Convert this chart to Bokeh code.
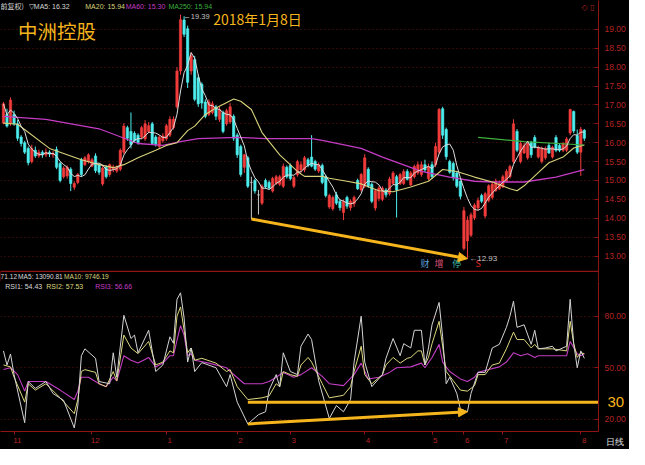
import pandas as pd
from bokeh.plotting import figure
from bokeh.layouts import column
from bokeh.models import (ColumnDataSource, Range1d, FixedTicker, NumeralTickFormatter,
                          Label, Arrow, NormalHead, BoxAnnotation, LinearAxis)
from bokeh.core.properties import value
from bokeh.embed import file_html
from bokeh.resources import INLINE

# ---------------- data ----------------
open_ = [16.52,16.75,16.52,16.75,16.50,16.15,16.00,15.85,15.50,15.80,
         15.65,15.75,15.68,15.75,15.68,15.82,15.45,15.10,15.12,15.30,
         14.82,14.95,15.55,15.42,15.50,15.38,15.65,15.42,14.91,15.35,
         15.16,15.30,15.25,15.30,15.75,16.40,16.30,16.25,16.20,16.15,
         16.10,16.30,16.50,16.15,15.90,16.05,16.10,16.20,16.40,16.95,
         17.90,19.25,19.02,17.90,18.20,17.72,17.55,17.08,16.75,16.80,
         16.95,16.62,16.80,16.50,16.55,16.70,16.20,15.90,15.35,15.60,
         14.95,15.00,14.62,14.40,15.00,14.95,14.72,14.92,14.90,14.85,
         15.35,15.40,14.85,15.15,15.28,15.28,15.55,15.62,15.50,15.25,
         15.40,15.10,14.30,14.25,14.62,14.45,14.15,14.55,14.28,14.38,
         15.00,14.75,14.85,15.30,14.90,14.27,14.52,14.50,14.75,14.65,
         14.92,15.10,14.92,14.92,15.24,14.88,15.10,15.20,15.16,15.42,
         15.05,15.42,15.42,15.75,16.90,16.35,15.50,15.45,15.20,14.98,
         13.20,13.40,13.55,14.01,14.27,14.60,14.06,14.47,14.55,14.73,
         14.78,14.83,14.98,15.10,15.50,16.30,15.50,15.73,15.60,16.01,
         16.14,15.62,15.50,15.60,15.93,15.62,16.14,15.93,15.80,15.80,
         16.26,16.83,16.19,15.75,16.33]
high = [17.08,16.90,17.20,16.85,16.60,16.20,16.05,15.90,15.95,15.90,
        15.82,15.80,15.85,15.80,15.78,15.90,15.50,15.38,15.40,15.35,
        14.98,15.20,15.60,15.65,15.72,15.60,15.72,15.45,15.38,15.40,
        15.45,15.42,15.40,15.85,16.52,16.45,16.80,16.30,16.25,16.45,
        16.60,16.55,16.55,16.20,16.20,16.25,16.50,16.70,16.70,18.00,
        19.39,19.35,19.10,18.40,18.30,17.80,17.60,17.15,17.15,17.10,
        17.00,16.95,16.85,16.90,17.05,16.75,16.25,15.95,15.70,15.65,
        15.10,15.05,14.75,14.90,15.05,15.00,15.10,15.15,15.15,15.45,
        15.40,15.45,15.12,15.55,15.50,15.65,15.60,16.20,15.55,15.48,
        15.45,15.15,14.65,14.60,14.70,14.50,14.50,14.60,14.50,14.60,
        15.05,15.20,15.70,15.35,14.95,14.78,14.85,14.85,14.80,15.10,
        15.25,15.15,15.20,15.30,15.30,15.25,15.42,15.50,15.50,15.55,
        15.45,15.50,16.00,16.92,16.95,16.40,15.55,15.50,15.25,15.00,
        14.30,14.05,14.15,14.40,14.55,14.65,14.70,14.90,14.95,15.05,
        15.00,15.15,15.30,15.42,16.62,16.36,16.05,16.00,16.02,16.05,
        16.20,15.92,15.90,15.90,16.00,15.92,16.20,15.98,16.02,16.15,
        16.90,16.85,16.35,16.42,16.36]
low = [16.49,16.40,16.45,16.45,16.05,15.90,15.70,15.40,15.45,15.60,
       15.60,15.60,15.62,15.62,15.60,15.30,14.95,15.05,15.05,14.72,
       14.75,14.90,15.10,15.38,15.45,15.35,15.20,15.15,14.86,15.05,
       15.10,15.22,15.20,15.25,15.70,16.05,15.85,16.00,15.95,16.10,
       16.05,16.25,15.95,15.90,15.85,16.00,16.05,16.15,16.35,16.90,
       17.80,18.80,17.45,17.80,17.10,16.95,16.90,16.65,16.70,16.75,
       16.60,16.55,16.25,16.45,16.50,16.05,15.60,15.10,15.20,14.80,
       13.98,14.65,14.10,14.35,14.78,14.75,14.68,14.88,14.85,14.80,
       15.05,15.00,14.80,15.10,15.20,15.22,15.35,15.35,15.25,15.20,
       14.90,14.55,14.25,14.20,14.35,14.20,13.95,14.25,14.20,14.30,
       14.75,14.70,14.80,14.80,14.40,14.20,14.45,14.45,14.55,14.60,
       14.88,14.02,14.88,14.88,15.00,14.85,15.05,15.15,15.10,15.22,
       15.00,15.05,15.35,15.70,16.10,15.55,15.18,15.00,14.80,14.50,
       13.15,12.93,13.50,13.95,14.20,14.40,14.00,14.42,14.50,14.70,
       14.75,14.80,14.95,15.05,15.45,15.75,15.45,15.70,15.55,15.60,
       15.85,15.58,15.45,15.55,15.70,15.58,15.75,15.75,15.75,15.75,
       16.20,16.25,15.70,15.12,16.05]
close = [17.03,16.44,17.13,16.50,16.12,15.98,15.75,15.47,15.85,15.65,
         15.75,15.68,15.75,15.70,15.72,15.35,15.00,15.33,15.35,14.92,
         14.92,15.16,15.16,15.60,15.68,15.55,15.26,15.22,15.33,15.10,
         15.42,15.36,15.35,15.80,16.44,16.12,15.95,16.05,16.00,16.40,
         16.50,16.45,15.98,15.95,16.15,16.18,16.45,16.62,16.62,17.90,
         19.26,18.87,17.60,18.30,17.15,17.03,17.05,16.70,17.08,17.03,
         16.70,16.88,16.30,16.85,16.95,16.12,15.68,15.16,15.68,14.85,
         14.95,14.72,14.62,14.85,14.83,14.80,15.05,15.10,15.10,15.37,
         15.10,15.05,15.08,15.50,15.42,15.60,15.40,15.38,15.30,15.42,
         14.95,14.60,14.60,14.55,14.40,14.28,14.45,14.32,14.45,14.55,
         14.78,15.16,15.60,14.85,14.45,14.73,14.80,14.80,14.62,15.04,
         15.20,14.75,15.16,15.24,15.03,15.20,15.37,15.42,15.42,15.28,
         15.37,15.10,15.90,16.88,16.20,15.63,15.22,15.08,14.85,14.58,
         14.20,13.95,14.09,14.35,14.47,14.45,14.65,14.86,14.90,14.98,
         14.92,15.10,15.24,15.37,16.50,15.80,15.98,15.93,15.98,15.68,
         15.88,15.88,15.85,15.85,15.73,15.88,15.80,15.80,15.98,16.10,
         16.88,16.31,15.75,16.36,16.12]

ma20_idx = [0,4,13,22,27,31,34,38,43,46,49,52,54,57,60,65,67,70,73,78,
            83,85,90,92,97,101,106,110,115,120,124,128,133,138,143,145,147,151,154,158,
            161,164]
ma20 = [16.52,16.49,15.85,15.55,15.42,15.34,15.42,15.60,15.80,15.93,
        16.00,16.32,16.44,16.75,16.92,17.16,17.10,16.88,16.27,15.68,
        15.24,15.11,15.11,15.06,14.98,14.91,14.73,14.70,14.83,14.98,
        15.29,15.24,15.09,14.96,14.78,14.73,14.86,15.21,15.47,15.62,
        15.86,15.94]
ma60_idx = [0,12,27,38,45,50,55,66,74,87,90,101,107,118,126,133,138,147,156,164]
ma60 = [16.70,16.62,16.37,15.98,15.93,16.03,16.11,16.14,16.11,16.11,
        16.06,15.85,15.62,15.24,15.09,14.98,14.96,14.96,15.09,15.29]
ma250_idx = [134, 147, 164]
ma250 = [16.14, 16.03, 15.94]

rsi1_idx = [0,1,2,3,6,7,9,12,14,17,20,21,22,23,26,27,30,31,32,34,
            36,37,38,41,43,45,47,48,49,50,51,52,53,54,56,60,63,64,66,69,
            72,74,75,77,78,79,81,83,84,86,87,89,92,94,96,98,99,101,102,104,
            107,108,110,112,113,115,116,118,119,120,121,123,124,125,126,128,129,131,132,134,
            136,138,140,142,143,144,145,147,149,150,151,153,155,156,159,160,161,162,163,164]
rsi1 = [59.8,51.6,58.0,46.0,18.0,42.0,38.0,42.0,35.0,31.0,15.0,28.0,57.0,61.0,55.5,42.0,40.7,58.7,44.5,80.5,
        67.0,69.0,58.7,71.8,47.8,51.6,68.0,64.2,89.8,93.6,79.0,53.3,61.5,47.8,53.0,50.0,39.0,46.0,30.0,17.3,
        22.7,24.4,37.0,46.0,39.0,58.7,47.8,46.0,62.5,69.6,66.4,42.4,20.5,28.0,24.4,31.5,53.3,80.0,53.3,39.0,
        46.0,55.5,67.0,57.0,64.0,61.5,71.8,71.8,51.6,61.5,75.0,88.0,68.0,40.7,44.5,35.0,26.0,24.4,35.0,47.3,
        47.3,61.5,63.6,73.5,80.0,88.7,73.5,75.0,63.6,71.8,61.0,61.5,62.5,59.8,62.5,89.8,64.0,50.0,59.8,55.5]
rsi2_idx = [0,2,3,6,7,9,12,16,20,21,22,23,26,27,29,31,32,34,36,38,
            41,43,45,47,48,49,50,51,52,53,54,56,60,63,64,66,69,73,75,77,
            78,79,81,83,84,86,87,90,92,95,96,98,99,101,102,104,107,108,110,112,
            114,115,117,118,119,120,121,123,124,125,127,129,131,133,134,136,138,140,142,144,
            145,147,149,150,151,155,159,160,161,162,163,164]
rsi2 = [51.6,50.5,44.5,30.0,40.7,37.0,40.7,32.5,23.3,31.5,47.8,48.9,47.3,40.7,39.0,47.8,42.4,69.0,61.5,58.2,
        65.3,51.6,53.3,59.8,58.7,80.0,85.4,71.8,58.7,61.5,54.4,55.5,52.7,47.8,48.9,39.0,31.5,32.5,33.6,40.7,
        39.0,47.8,46.0,45.0,51.6,56.0,53.3,40.7,32.5,33.6,34.0,39.0,47.8,62.5,46.0,40.7,46.0,51.6,56.0,52.7,
        55.5,56.0,59.8,59.8,51.6,56.0,64.0,77.0,62.5,47.8,42.4,37.0,36.4,39.6,46.0,46.0,51.6,52.7,61.0,70.7,
        66.4,66.4,61.5,63.6,61.0,61.0,59.8,77.0,64.0,56.0,58.7,58.2]
rsi3_idx = [0,2,4,6,7,12,16,20,21,22,24,27,29,31,32,34,36,38,41,43,
            45,47,48,49,50,51,52,53,54,58,63,64,68,73,75,77,79,82,84,87,
            90,92,96,99,101,103,106,109,111,115,118,119,121,123,124,126,129,131,133,134,
            137,140,142,144,146,148,150,151,155,159,160,162,163,164]
rsi3 = [49.0,50.0,46.0,36.4,42.0,42.0,37.0,31.5,36.4,44.5,44.5,40.7,39.0,44.5,42.4,57.0,54.4,52.7,56.0,50.5,
        52.7,57.0,57.0,66.0,74.5,69.0,57.0,58.2,54.4,52.7,50.0,47.8,40.7,40.7,42.0,44.5,47.3,44.5,46.0,50.0,
        45.0,40.7,39.6,46.0,52.7,43.5,44.5,47.3,50.0,50.5,52.7,50.0,56.0,63.6,53.3,47.8,43.5,42.0,44.5,47.3,
        49.0,50.5,53.3,58.7,57.0,58.2,56.0,57.0,57.0,57.0,65.3,58.2,57.0,58.2]

price_ticks = [13.0, 13.5, 14.0, 14.5, 15.0, 15.5, 16.0, 16.5, 17.0, 17.5, 18.0, 18.5, 19.0]
rsi_ticks = [20, 50, 80]
oversold = 30
month_idx = [3, 25, 46, 66, 81, 102, 121, 130, 141, 163]
month_lbl = ["11", "12", "1", "2", "3", "4", "5", "6", "7", "8"]
period_lbl = "日线"
evt_idx = [119, 123, 128, 134]
evt_txt = ["财", "增", "停", "S"]

# ---------------- styles ----------------
BG = "#000000"
UP = "#f23c3c"
DN = "#4eeeee"
DJ = "#c8c8c8"
AX = "#8e1515"
AXT = "#b32424"
GRID = "#5e1414"
GOLD = "#f6b51c"
C_MA5 = "#dcdcdc"
C_MA20 = "#d8d27c"
C_MA60 = "#c43cc4"
C_MA250 = "#3fae3f"
C_R1 = "#d4d4d4"
C_R2 = "#dcd87e"
C_R3 = "#c23ec2"
LAT = "Liberation Sans"
CJK = "Noto Sans CJK SC"
evt_col = ["#5c9fd6", "#d8507a", "#3fbcaa", "#e42a2a"]
NB = "\u00a0"

n = len(close)
idx = list(range(n))
ma5 = pd.Series(close).rolling(5, min_periods=1).mean().tolist()
colors = [UP if c > o else (DN if c < o else DJ) for o, c in zip(open_, close)]
src = ColumnDataSource(dict(i=idx, h=high, l=low,
                            top=[max(a, b) for a, b in zip(open_, close)],
                            bot=[min(a, b) for a, b in zip(open_, close)],
                            color=colors))

xr = Range1d(-0.83, 168.0)

def base_fig(**kw):
    p = figure(output_backend="svg", toolbar_location=None, title=None,
               background_fill_color=BG, border_fill_color=BG,
               min_border_left=0, min_border_top=0, min_border_bottom=0, **kw)
    p.outline_line_color = None
    return p

def style_yaxis(ax):
    ax.axis_line_color = AX
    ax.major_tick_line_color = AX
    ax.major_tick_in = 4
    ax.major_tick_out = 0
    ax.minor_tick_line_color = None
    ax.major_label_text_color = AXT
    ax.major_label_text_font = LAT
    ax.major_label_text_font_size = "8.5px"
    ax.major_label_standoff = 6
    ax.formatter = NumeralTickFormatter(format="0.00")

def lab(p, x, y, t, c, size, font=LAT, **kw):
    p.add_layout(Label(x=x, y=y, text=t, text_color=c, text_font=font,
                       text_font_size=size, text_baseline="middle", **kw))

# ---------------- price panel (with the volume header strip at its foot) ----------------
p1 = base_fig(width=629, height=281, x_range=xr, y_range=Range1d(12.325, 19.767),
              x_axis_location=None, y_axis_location="right", min_border_right=31)
p1.yaxis.ticker = FixedTicker(ticks=price_ticks)
style_yaxis(p1.yaxis[0])
p1.xgrid.visible = False
p1.ygrid.grid_line_color = GRID
p1.ygrid.grid_line_dash = "1 3"

p1.segment(x0="i", y0="h", x1="i", y1="l", source=src, line_color="color", line_width=1)
p1.vbar(x="i", width=0.66, top="top", bottom="bot", source=src,
        fill_color="color", line_color="color", line_width=0.6)
p1.line(ma60_idx, ma60, line_color=C_MA60, line_width=1.3)
p1.line(ma20_idx, ma20, line_color=C_MA20, line_width=1.1)
p1.line(ma250_idx, ma250, line_color=C_MA250, line_width=1.2)
p1.line(idx, ma5, line_color=C_MA5, line_width=1.0)

# header
hdr_y = 19.614
lab(p1, -0.83, hdr_y, "前复权)", "#d8d8d8", "7px", CJK)
lab(p1, 7.16, hdr_y, "▽MA5: 16.32", "#d8d8d8", "7px")
lab(p1, 23.1, hdr_y, "MA20: 15.94", C_MA20, "7px")
lab(p1, 34.5, hdr_y, "MA60: 15.30", C_MA60, "7px")
lab(p1, 46.6, hdr_y, "MA250: 15.94", C_MA250, "7px")
lab(p1, 163.2, 19.59, "◇ ▯", "#a52020", "8px", "DejaVu Sans")

lab(p1, 4.1, 18.97, "中洲控股", GOLD, "19.5px", CJK)
lab(p1, 59.2, 19.29, "2018年1月8日", GOLD, "14px", CJK)

hi_i = max(idx, key=lambda k: high[k])
lo_i = min(idx, key=lambda k: low[k])
lab(p1, hi_i + 0.8, high[hi_i] - 0.04, "←%.2f" % high[hi_i], "#c4c4c4", "7.5px")
lab(p1, lo_i + 0.5, low[lo_i], "←%.2f" % low[lo_i], "#c4c4c4", "8px")

evt_src = ColumnDataSource(dict(x=evt_idx, y=[12.79] * len(evt_idx), t=evt_txt, c=evt_col))
p1.text(x="x", y="y", text="t", source=evt_src, text_color="c", text_font=value(CJK),
        text_font_size="9px", text_align="center", text_baseline="middle")

a_i = min(range(60, 80), key=lambda k: low[k])
p1.add_layout(Arrow(end=NormalHead(size=9, fill_color=GOLD, line_color=GOLD),
                    x_start=a_i, y_start=low[a_i], x_end=lo_i, y_end=low[lo_i],
                    line_color=GOLD, line_width=3))

# volume header strip
p1.add_layout(BoxAnnotation(top=12.593, fill_color=BG, fill_alpha=1.0,
                            line_color=AX, line_width=1.2, line_alpha=1.0))
strip_y = 12.462
lab(p1, -0.8, strip_y, "71.12", "#d8d8d8", "6.6px")
lab(p1, 4.13, strip_y, "MA5: 13090.81", "#d8d8d8", "6.6px")
lab(p1, 17.1, strip_y, "MA10: 9746.19", C_MA20, "6.6px")

# ---------------- RSI panel ----------------
p2 = base_fig(width=629, height=168, x_range=xr, y_range=Range1d(12.91, 100.18),
              y_axis_location="right", min_border_right=31)
p2.yaxis.ticker = FixedTicker(ticks=rsi_ticks)
style_yaxis(p2.yaxis[0])
p2.xgrid.visible = False
p2.ygrid.grid_line_color = GRID
p2.ygrid.grid_line_dash = "1 3"
xa = p2.xaxis[0]
xa.ticker = FixedTicker(ticks=month_idx)
xa.major_label_overrides = {m: NB * 3 + s for m, s in zip(month_idx, month_lbl)}
xa.axis_line_color = AX
xa.major_tick_line_color = AX
xa.major_tick_in = 0
xa.major_tick_out = 3
xa.minor_tick_line_color = None
xa.major_label_text_color = AXT
xa.major_label_text_font = LAT
xa.major_label_text_font_size = "8px"
xa.major_label_standoff = 1

# "30" marker of the oversold level, in the right-hand axis strip
ax30 = LinearAxis(ticker=FixedTicker(ticks=[oversold]), major_label_overrides={oversold: str(oversold)},
                  axis_line_color=None, major_tick_line_color=None, minor_tick_line_color=None,
                  major_tick_in=0, major_tick_out=0,
                  major_label_text_color=GOLD, major_label_text_font=LAT,
                  major_label_text_font_size="15px", major_label_standoff=-21)
p2.add_layout(ax30, "right")

# period label "日线" in the bottom-right corner, on the same row as the month labels
axd = LinearAxis(ticker=FixedTicker(ticks=[167]), major_label_overrides={167: NB * 16 + period_lbl},
                 axis_line_color=None, major_tick_line_color=None, minor_tick_line_color=None,
                 major_tick_in=0, major_tick_out=0,
                 major_label_text_color="#e0e0e0", major_label_text_font=LAT,
                 major_label_text_font_size="9px", major_label_standoff=-11)
p2.add_layout(axd, "below")

p2.line(rsi3_idx, rsi3, line_color=C_R3, line_width=1.1)
p2.line(rsi2_idx, rsi2, line_color=C_R2, line_width=1.0)
p2.line(rsi1_idx, rsi1, line_color=C_R1, line_width=1.0)

ra = rsi1_idx[min(range(len(rsi1)), key=lambda k: rsi1[k] if 60 <= rsi1_idx[k] <= 80 else 999)]
rb = rsi1_idx[min(range(len(rsi1)), key=lambda k: rsi1[k] if 125 <= rsi1_idx[k] <= 135 else 999)]
rva = rsi1[rsi1_idx.index(ra)]
rvb = rsi1[rsi1_idx.index(rb)]
p2.segment(x0=[ra], y0=[oversold], x1=[xr.end], y1=[oversold], line_color=GOLD, line_width=3)
p2.add_layout(Arrow(end=NormalHead(size=9, fill_color=GOLD, line_color=GOLD),
                    x_start=ra, y_start=rva, x_end=rb, y_end=rvb,
                    line_color=GOLD, line_width=3))
lab(p2, 0.5, 97.4, "RSI1: 54.43", "#d8d8d8", "7px")
lab(p2, 12.1, 97.4, "RSI2: 57.53", C_R2, "7px")
lab(p2, 25.9, 97.4, "RSI3: 56.66", C_R3, "7px")

layout = column(p1, p2, spacing=0, styles={"background-color": BG})
open("out.html", "w", encoding="utf-8").write(file_html(layout, INLINE))
